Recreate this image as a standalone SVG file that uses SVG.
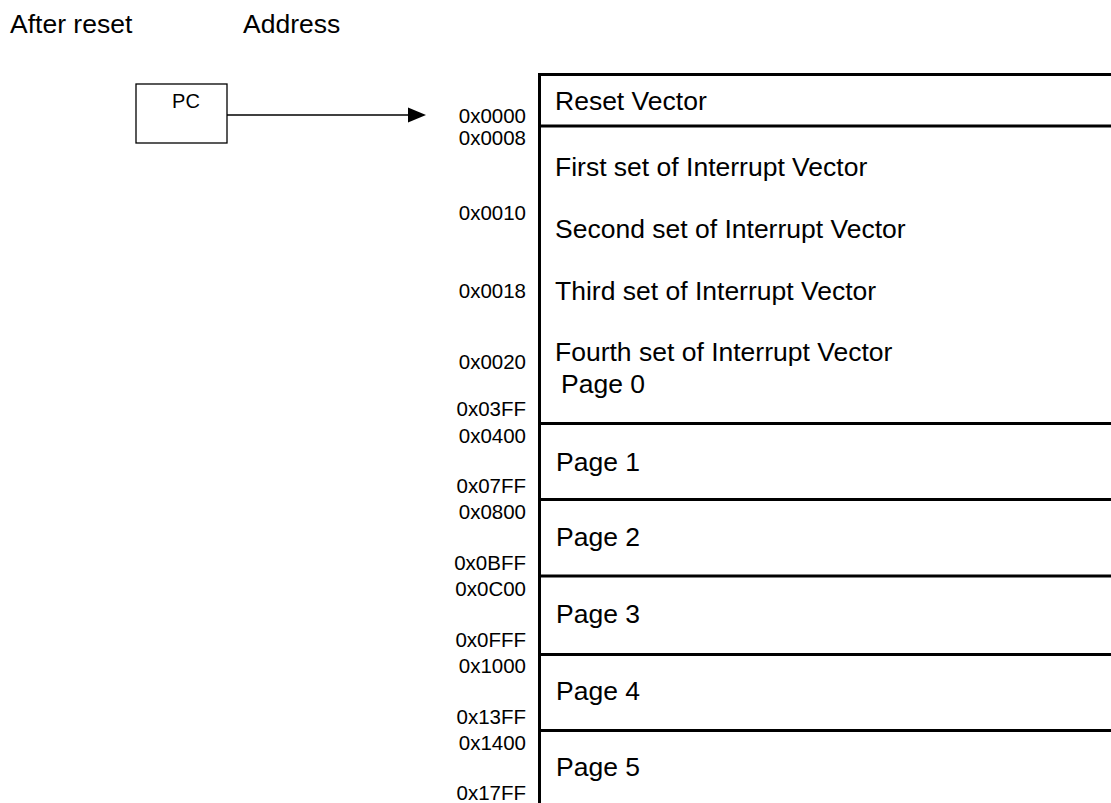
<svg xmlns="http://www.w3.org/2000/svg" width="1111" height="803" viewBox="0 0 1111 803">
<style>
.big{font-family:"Liberation Sans",Arial,sans-serif;font-size:26.5px;fill:#000}
.sm{font-family:"Liberation Sans",Arial,sans-serif;font-size:20.5px;fill:#000;text-anchor:end}
.thick{stroke:#000;stroke-width:3;fill:none}
</style>
<rect width="1111" height="803" fill="#fff"/>
<g id="titles">
<text class="big" x="10" y="33">After reset</text>
<text class="big" x="243" y="33">Address</text>
</g>
<g id="pc">
<rect x="136" y="84" width="91" height="59" fill="#fff" stroke="#000" stroke-width="1.3"/>
<text x="186" y="108" font-family="Liberation Sans,Arial,sans-serif" font-size="20" text-anchor="middle">PC</text>
</g>
<g id="connectors">
<line x1="227" y1="115" x2="410" y2="115" stroke="#000" stroke-width="1.5"/>
<path d="M408,107.5 L426,115 L408,122.5 Z" fill="#000"/>
</g>
<g id="memory">
<line class="thick" x1="539.5" y1="73" x2="539.5" y2="803"/>
<line class="thick" x1="538" y1="74.5" x2="1111" y2="74.5"/>
<line class="thick" x1="538" y1="126" x2="1111" y2="126"/>
<line class="thick" x1="538" y1="423.5" x2="1111" y2="423.5"/>
<line class="thick" x1="538" y1="499.5" x2="1111" y2="499.5"/>
<line class="thick" x1="538" y1="576" x2="1111" y2="576"/>
<line class="thick" x1="538" y1="654.5" x2="1111" y2="654.5"/>
<line class="thick" x1="538" y1="730.5" x2="1111" y2="730.5"/>
<text class="big" x="555" y="110">Reset Vector</text>
<text class="big" x="555" y="176">First set of Interrupt Vector</text>
<text class="big" x="555" y="238">Second set of Interrupt Vector</text>
<text class="big" x="555" y="300">Third set of Interrupt Vector</text>
<text class="big" x="555" y="361">Fourth set of Interrupt Vector</text>
<text class="big" x="561" y="393">Page 0</text>
<text class="big" x="556" y="471">Page 1</text>
<text class="big" x="556" y="546">Page 2</text>
<text class="big" x="556" y="623">Page 3</text>
<text class="big" x="556" y="700">Page 4</text>
<text class="big" x="556" y="776">Page 5</text>
</g>
<g id="addresses">
<text class="sm" x="526" y="123">0x0000</text>
<text class="sm" x="526" y="145">0x0008</text>
<text class="sm" x="526" y="220">0x0010</text>
<text class="sm" x="526" y="298">0x0018</text>
<text class="sm" x="526" y="369">0x0020</text>
<text class="sm" x="526" y="416">0x03FF</text>
<text class="sm" x="526" y="443">0x0400</text>
<text class="sm" x="526" y="493">0x07FF</text>
<text class="sm" x="526" y="519">0x0800</text>
<text class="sm" x="526" y="570">0x0BFF</text>
<text class="sm" x="526" y="596">0x0C00</text>
<text class="sm" x="526" y="647">0x0FFF</text>
<text class="sm" x="526" y="673">0x1000</text>
<text class="sm" x="526" y="724">0x13FF</text>
<text class="sm" x="526" y="750">0x1400</text>
<text class="sm" x="526" y="800">0x17FF</text>
</g>
</svg>
